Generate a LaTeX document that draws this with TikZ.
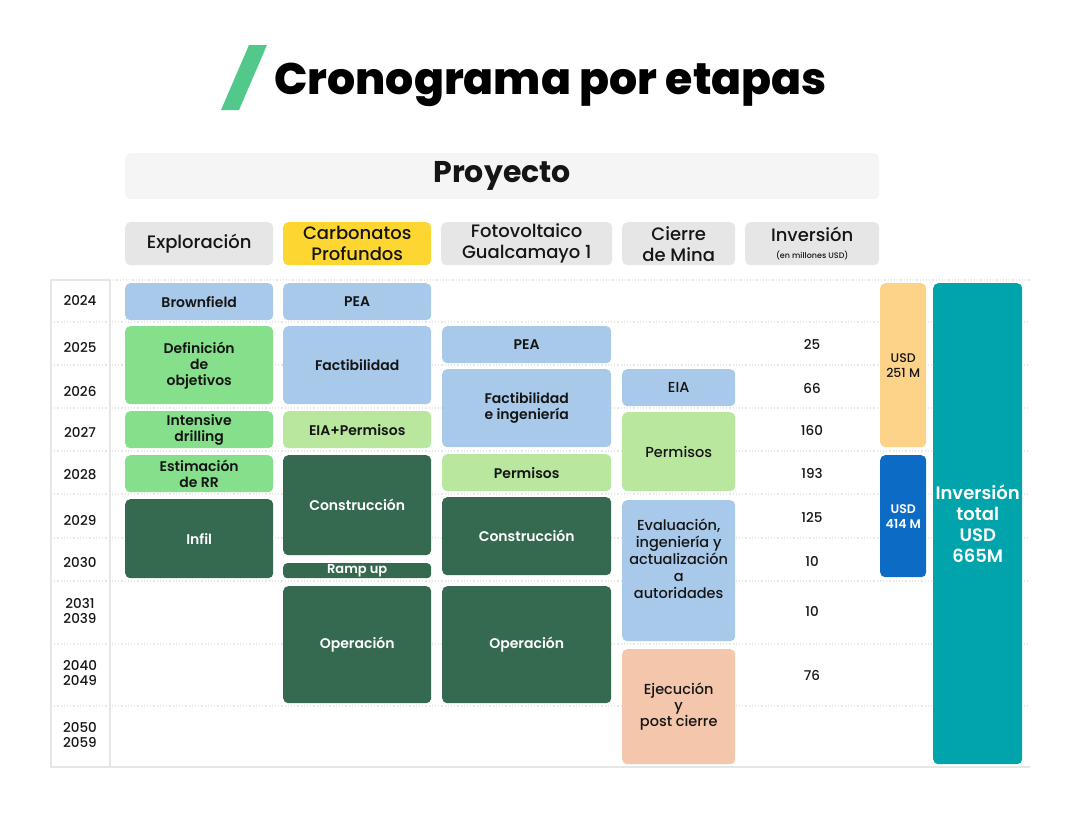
\documentclass[tikz,border=0pt]{standalone}
\usepackage{fontspec}
\setmainfont{Poppins}
\newfontfamily\semi{Poppins}[UprightFont={* SemiBold}]
\newfontfamily\medi{Poppins}[UprightFont={* Medium}]
\newfontfamily\xbold{Poppins}[UprightFont={* ExtraBold}]
\definecolor{txt}{HTML}{151515}
\definecolor{lblue}{HTML}{A9C9EB}
\definecolor{grn}{HTML}{86DF8B}
\definecolor{lgrn}{HTML}{B9E79E}
\definecolor{dgrn}{HTML}{356A51}
\definecolor{peach}{HTML}{F4C7AC}
\definecolor{hgray}{HTML}{E6E6E6}
\definecolor{pgray}{HTML}{F5F5F5}
\definecolor{yel}{HTML}{FDD632}
\definecolor{orng}{HTML}{FDD38A}
\definecolor{blu}{HTML}{0B6BC5}
\definecolor{teal}{HTML}{00A4AA}
\definecolor{tgrn}{HTML}{52C98A}
\definecolor{grid}{HTML}{E6E6E6}
\newcommand\blk[7]{\node[bx,#6,minimum width={(#4-#2)*1pt},minimum height={(#5-#3)*1pt}] (#1) at (#2,#3) {#7};}
\begin{document}
\begin{tikzpicture}[x=1pt,y=-1pt,
  bx/.style={rounded corners=5pt, anchor=north west, inner sep=0pt, align=center, text=txt},
  lbl/.style={font=\semi\fontsize{14}{16}\selectfont},
  hdr/.style={fill=hgray, font=\medi\fontsize{18}{21}\selectfont},
  lb/.style={fill=lblue, lbl},
  gr/.style={fill=grn, lbl},
  lg/.style={fill=lgrn, lbl},
  dg/.style={fill=dgrn, lbl, text=white},
  pc/.style={fill=peach, lbl},
  cmtxt/.style={font=\medi\fontsize{14.5}{17}\selectfont},
  yr/.style={font=\medi\fontsize{13.5}{15}\selectfont, align=center, text=txt, inner sep=0pt},
  num/.style={font=\medi\fontsize{13.5}{15}\selectfont, text=txt, inner sep=0pt},
  gl/.style={draw=grid, line width=1.2pt, dotted},
  frame/.style={draw=grid, line width=1.5pt}
]
\useasboundingbox (0,0) rectangle (1080,833);
% title
\fill[tgrn] (221,110) -- (239,110) -- (267,45) -- (249,45) -- cycle;
\node[anchor=base west, inner sep=0pt, font=\xbold\fontsize{44.2}{44}\selectfont, text=black] (title) at (274,94) {Cronograma por etapas};
% header
\blk{proy}{125}{153}{879}{199}{fill=pgray, font=\bfseries\fontsize{30}{32}\selectfont}{Proyecto}
\blk{hexp}{125}{222}{273}{265}{hdr}{Exploración}
\blk{hcar}{283}{222}{431}{265}{hdr, fill=yel}{Carbonatos\\Profundos}
\blk{hfot}{441}{222}{612}{265}{hdr}{Fotovoltaico\\Gualcamayo 1}
\blk{hcie}{622}{222}{735}{265}{hdr}{Cierre\\de Mina}
\blk{hinv}{745}{222}{879}{265}{hdr}{Inversión\\[-4pt]{\fontsize{8}{10}\selectfont (en millones USD)}}
% grid
\foreach \y in {322,365,408,451,494,538,581,644,706}
  \draw[gl] (51,\y) -- (1030,\y);
\draw[gl] (110,280) -- (1030,280);
\draw[frame] (51,280) rectangle (110,767);
\draw[frame] (110,767) -- (1030,767);
% years
\node[yr] (y24) at (80,300) {2024};
\node[yr] (y25) at (80,347) {2025};
\node[yr] (y26) at (80,391) {2026};
\node[yr] (y27) at (80,432) {2027};
\node[yr] (y28) at (80,475) {2028};
\node[yr] (y29) at (80,520) {2029};
\node[yr] (y30) at (80,562) {2030};
\node[yr] (y31) at (80,611) {2031\\2039};
\node[yr] (y40) at (80,673) {2040\\2049};
\node[yr] (y50) at (80,735) {2050\\2059};
% Exploracion
\blk{e1}{125}{283}{273}{320}{lb}{Brownfield}
\blk{e2}{125}{326}{273}{404}{gr}{Definición\\de\\objetivos}
\blk{e3}{125}{411}{273}{448}{gr}{Intensive\\drilling}
\blk{e4}{125}{455}{273}{492}{gr}{Estimación\\de RR}
\blk{e5}{125}{499}{273}{578}{dg}{Infil}
% Carbonatos
\blk{c1}{283}{283}{431}{320}{lb}{PEA}
\blk{c2}{283}{326}{431}{404}{lb}{Factibilidad}
\blk{c3}{283}{411}{431}{448}{lg}{EIA+Permisos}
\blk{c4}{283}{455}{431}{555}{dg}{Construcción}
\blk{c5}{283}{563}{431}{578}{dg, rounded corners=4pt, font=\semi\fontsize{13}{14}\selectfont}{Ramp up}
\blk{c6}{283}{586}{431}{703}{dg}{Operación}
% Fotovoltaico
\blk{f1}{442}{326}{611}{363}{lb}{PEA}
\blk{f2}{442}{369}{611}{447}{lb}{Factibilidad\\e ingeniería}
\blk{f3}{442}{454}{611}{491}{lg}{Permisos}
\blk{f4}{442}{497}{611}{575}{dg}{Construcción}
\blk{f5}{442}{586}{611}{703}{dg}{Operación}
% Cierre
\blk{m1}{622}{369}{735}{406}{lb, cmtxt}{EIA}
\blk{m2}{622}{412}{735}{491}{lg, cmtxt}{Permisos}
\blk{m3}{622}{500}{735}{641}{lb, cmtxt}{Evaluación,\\ingeniería y\\actualización\\a\\autoridades\\[8pt]}
\blk{m4}{622}{649}{735}{764}{pc, font=\medi\fontsize{14.5}{16}\selectfont}{Ejecución\\y\\post cierre}
% numbers
\node[num] (n25) at (812,344) {25};
\node[num] (n66) at (812,388) {66};
\node[num] (n160) at (812,430) {160};
\node[num] (n193) at (812,473) {193};
\node[num] (n125) at (812,517) {125};
\node[num] (n10a) at (812,561) {10};
\node[num] (n10b) at (812,611) {10};
\node[num] (n76) at (812,675) {76};
% investment bars
\blk{u1}{880}{283}{926}{447}{fill=orng, font=\medi\fontsize{12.5}{15}\selectfont}{USD\\251 M}
\blk{u2}{880}{455}{926}{577}{fill=blu, text=white, font=\semi\fontsize{12.5}{15}\selectfont}{USD\\414 M}
\blk{tot}{933}{283}{1022}{764}{fill=teal, text=white, font=\semi\fontsize{18}{21}\selectfont}{Inversión\\total\\USD\\665M}
\end{tikzpicture}
\end{document}
